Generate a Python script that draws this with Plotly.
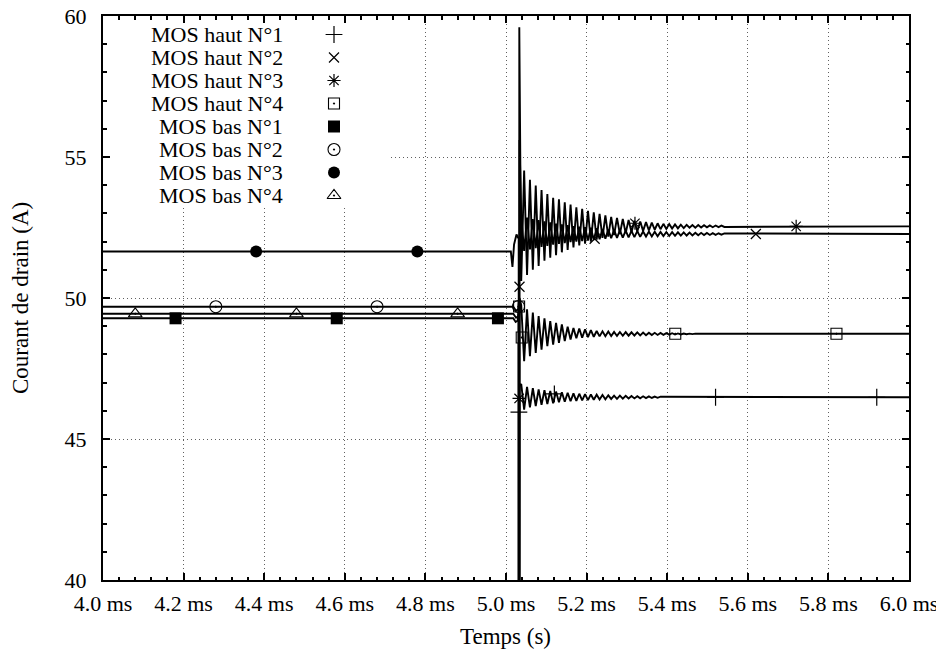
import plotly.graph_objects as go

# ---------------- data ----------------
x_tick_vals = [4.0, 4.2, 4.4, 4.6, 4.8, 5.0, 5.2, 5.4, 5.6, 5.8, 6.0]
x_tick_text = ["4.0 ms", "4.2 ms", "4.4 ms", "4.6 ms", "4.8 ms", "5.0 ms",
               "5.2 ms", "5.4 ms", "5.6 ms", "5.8 ms", "6.0 ms"]
y_tick_vals = [40, 45, 50, 55, 60]
y_tick_text = ["40", "45", "50", "55", "60"]

series_names = ["MOS haut N°1", "MOS haut N°2", "MOS haut N°3", "MOS haut N°4",
                "MOS bas N°1", "MOS bas N°2", "MOS bas N°3", "MOS bas N°4"]

# times (ms) of the successive ringing extremes after the switching instant
t_ring = [5.0450, 5.0522, 5.0594, 5.0666, 5.0738, 5.0810, 5.0882, 5.0954, 5.1026, 5.1098,
          5.1170, 5.1242, 5.1314, 5.1386, 5.1458, 5.1530, 5.1602, 5.1674, 5.1746, 5.1818,
          5.1890, 5.1962, 5.2034, 5.2106, 5.2178, 5.2250, 5.2322, 5.2394, 5.2466, 5.2538,
          5.2610, 5.2682, 5.2754, 5.2826, 5.2898, 5.2970, 5.3042, 5.3114, 5.3186, 5.3258,
          5.3330, 5.3402, 5.3474, 5.3546, 5.3618, 5.3690, 5.3762, 5.3834, 5.3906, 5.3978,
          5.4050, 5.4122, 5.4194, 5.4266, 5.4338, 5.4410, 5.4482, 5.4554, 5.4626, 5.4698,
          5.4770, 5.4842, 5.4914, 5.4986, 5.5058, 5.5130, 5.5202, 5.5274, 5.5346, 5.5418]

# ---- high-side MOS: before switching (off, 0 A), switching edge, ringing, final value
haut1_pre_t = [4.0, 5.0324, 5.0334, 5.0378]
haut1_pre_v = [0.0, 0.0, 46.9, 46.95]
haut1_ring = [46.04, 46.85, 46.12, 46.80, 46.17, 46.76, 46.21, 46.73, 46.24, 46.70,
              46.27, 46.68, 46.30, 46.66, 46.32, 46.64, 46.34, 46.62, 46.355, 46.605,
              46.37, 46.59, 46.38, 46.58, 46.39, 46.57, 46.40, 46.56, 46.41, 46.55,
              46.42, 46.54, 46.425, 46.535, 46.43, 46.53, 46.435, 46.525, 46.44, 46.52,
              46.445, 46.515, 46.45, 46.51, 46.455, 46.505, 46.46, 46.50]
haut1_final = 46.48

haut2_pre_t = [4.0, 5.0324, 5.0335, 5.0378]
haut2_pre_v = [0.0, 0.0, 55.6, 52.9]
haut2_ring = [51.67, 52.85, 51.72, 52.80, 51.77, 52.76, 51.81, 52.72, 51.85, 52.68,
              51.89, 52.64, 51.92, 52.61, 51.95, 52.58, 51.98, 52.55, 52.00, 52.53,
              52.02, 52.51, 52.04, 52.49, 52.06, 52.47, 52.08, 52.45, 52.10, 52.43,
              52.12, 52.42, 52.13, 52.40, 52.14, 52.39, 52.15, 52.38, 52.16, 52.37,
              52.17, 52.36, 52.18, 52.355, 52.185, 52.35, 52.19, 52.345, 52.195, 52.34,
              52.20, 52.335, 52.205, 52.33, 52.21, 52.325, 52.215, 52.32, 52.22, 52.315,
              52.225, 52.31, 52.23, 52.305, 52.235, 52.30, 52.24, 52.295, 52.245, 52.29]
haut2_final = 52.27

haut3_pre_t = [4.0, 5.0322, 5.0330, 5.0378]
haut3_pre_v = [0.0, 0.0, 59.6, 50.6]
haut3_ring = [54.52, 50.82, 54.19, 51.00, 53.99, 51.14, 53.83, 51.32, 53.69, 51.43,
              53.55, 51.52, 53.50, 51.62, 53.39, 51.70, 53.31, 51.79, 53.22, 51.86,
              53.16, 51.93, 53.09, 52.00, 53.04, 52.07, 52.98, 52.13, 52.93, 52.18,
              52.88, 52.23, 52.84, 52.27, 52.80, 52.30, 52.77, 52.33, 52.74, 52.36,
              52.71, 52.38, 52.69, 52.40, 52.67, 52.42, 52.65, 52.44, 52.63, 52.45,
              52.62, 52.46, 52.61, 52.47, 52.60, 52.48, 52.595, 52.49, 52.59, 52.495,
              52.585, 52.50, 52.58, 52.505, 52.575, 52.51, 52.57, 52.515, 52.565, 52.52]
haut3_final = 52.54

haut4_pre_t = [4.0, 5.0325, 5.0336, 5.0378]
haut4_pre_v = [0.0, 0.0, 50.0, 49.75]
haut4_ring = [47.76, 49.60, 47.94, 49.48, 48.05, 49.36, 48.17, 49.28, 48.29, 49.18,
              48.35, 49.12, 48.41, 49.06, 48.47, 48.98, 48.53, 48.94, 48.57, 48.92,
              48.59, 48.89, 48.61, 48.86, 48.625, 48.83, 48.64, 48.82, 48.645, 48.81,
              48.65, 48.80, 48.655, 48.795, 48.66, 48.79, 48.665, 48.785, 48.67, 48.78,
              48.675, 48.775, 48.68, 48.77, 48.685, 48.765, 48.69, 48.76, 48.695, 48.755,
              48.70, 48.75, 48.705, 48.745, 48.71, 48.74, 48.715, 48.735, 48.72, 48.735]
haut4_final = 48.73

# ---- low-side MOS: conducting, then switched off (0 A) at the edge
bas1_t = [4.0, 5.018, 5.024, 5.029, 5.0315, 5.0320, 6.0]
bas1_v = [49.28, 49.28, 49.15, 49.20, 49.50, 0.0, 0.0]
bas2_t = [4.0, 5.018, 5.025, 5.030, 5.0318, 5.0322, 6.0]
bas2_v = [49.69, 49.69, 49.55, 49.60, 49.90, 0.0, 0.0]
bas3_t = [4.0, 5.012, 5.016, 5.020, 5.026, 5.0315, 5.0320, 6.0]
bas3_v = [51.65, 51.65, 51.10, 51.90, 52.25, 52.10, 0.0, 0.0]
bas4_t = [4.0, 5.018, 5.025, 5.030, 5.0318, 5.0322, 6.0]
bas4_v = [49.44, 49.44, 49.30, 49.35, 49.60, 0.0, 0.0]

# ---- point markers (gnuplot point interval)
haut1_mk_t = [5.032, 5.12, 5.52, 5.92]
haut1_mk_v = [45.95, 46.60, 46.48, 46.48]
haut2_mk_t = [5.0335, 5.22, 5.62]
haut2_mk_v = [50.40, 52.10, 52.27]
haut3_mk_t = [5.0325, 5.32, 5.72]
haut3_mk_v = [46.44, 52.65, 52.54]
haut4_mk_t = [5.0325, 5.039, 5.42, 5.82]
haut4_mk_v = [49.70, 48.60, 48.73, 48.73]
bas1_mk_t = [4.18, 4.58, 4.98]
bas1_mk_v = [49.28, 49.28, 49.28]
bas2_mk_t = [4.28, 4.68, 5.031]
bas2_mk_v = [49.69, 49.69, 49.70]
bas3_mk_t = [4.38, 4.78]
bas3_mk_v = [51.65, 51.65]
bas4_mk_t = [4.08, 4.48, 4.88]
bas4_mk_v = [49.44, 49.44, 49.44]

# ---------------- assemble ----------------
def haut_series(pre_t, pre_v, ring, final):
    n = len(ring)
    return pre_t + t_ring[:n] + [6.0], pre_v + ring + [final]

lines = [
    haut_series(haut1_pre_t, haut1_pre_v, haut1_ring, haut1_final),
    haut_series(haut2_pre_t, haut2_pre_v, haut2_ring, haut2_final),
    haut_series(haut3_pre_t, haut3_pre_v, haut3_ring, haut3_final),
    haut_series(haut4_pre_t, haut4_pre_v, haut4_ring, haut4_final),
    (bas1_t, bas1_v), (bas2_t, bas2_v), (bas3_t, bas3_v), (bas4_t, bas4_v),
]
markers = [(haut1_mk_t, haut1_mk_v), (haut2_mk_t, haut2_mk_v), (haut3_mk_t, haut3_mk_v),
           (haut4_mk_t, haut4_mk_v), (bas1_mk_t, bas1_mk_v), (bas2_mk_t, bas2_mk_v),
           (bas3_mk_t, bas3_mk_v), (bas4_mk_t, bas4_mk_v)]

# marker styles (symbol, size, outline width)
styles = [("cross-thin", 12, 1.2), ("x-thin", 10, 1.2), ("asterisk", 11, 1.2),
          ("square-open-dot", 11, 1.1), ("square", 12, 0), ("circle-open-dot", 12, 1.1),
          ("circle", 12, 0), ("triangle-up-open-dot", 12, 1.1)]

FONT = "Liberation Serif"
FS_TICK = 22
FS_KEY = 22
FS_TITLE = 23
W, H = 944, 656
OFF = 8                           # page body margin seen in the screenshot
L, R, T, B = 103, 909, 16, 580    # plot area in screenshot pixels (reference)

fig = go.Figure()
for (xs, ys) in lines:
    fig.add_trace(go.Scatter(x=xs, y=ys, mode="lines",
                             line=dict(color="black", width=1.9),
                             showlegend=False, hoverinfo="skip"))
for (xs, ys), (sym, size, lw) in zip(markers, styles):
    fig.add_trace(go.Scatter(x=xs, y=ys, mode="markers",
                             marker=dict(symbol=sym, size=size, color="black",
                                         line=dict(color="black", width=lw)),
                             showlegend=False, hoverinfo="skip"))

# --- custom gnuplot-like key (text right-aligned, symbol to the right)
def px_x(p):
    return (p - L) / (R - L)

def px_y(p):
    return (B - p) / (B - T)

key_text_x = 285
key_sym_x = 334
key_row0 = 34.5
key_step = 23.0
annotations = []
for i, name in enumerate(series_names):
    yy = px_y(key_row0 + i * key_step)
    annotations.append(dict(x=px_x(key_text_x), y=yy, xref="paper", yref="paper",
                            text=name, showarrow=False, xanchor="right", yanchor="middle",
                            font=dict(family=FONT, size=FS_KEY, color="black")))
    sym, size, lw = styles[i]
    fig.add_trace(go.Scatter(x=[px_x(key_sym_x)], y=[yy], xaxis="x2", yaxis="y2",
                             mode="markers",
                             marker=dict(symbol=sym, size=size, color="black",
                                         line=dict(color="black", width=lw)),
                             showlegend=False, hoverinfo="skip"))

annotations.append(dict(x=px_x(505), y=px_y(637), xref="paper", yref="paper",
                        text="Temps (s)", showarrow=False, xanchor="center",
                        yanchor="middle", font=dict(family=FONT, size=FS_TITLE, color="black")))
annotations.append(dict(x=px_x(20), y=px_y(298), xref="paper", yref="paper",
                        text="Courant de drain (A)", showarrow=False, textangle=-90,
                        xanchor="center", yanchor="middle",
                        font=dict(family=FONT, size=FS_TITLE, color="black")))

# white box behind the key (hides the grid there)
x_span = 2.0
y_span = 20.0
shapes = [dict(type="rect", xref="x", yref="y", layer="between",
               x0=4.0, x1=4.0 + px_x(389) * x_span,
               y0=60 - (208 - T) / (B - T) * y_span, y1=60,
               fillcolor="white", line=dict(width=0))]

grid = dict(showgrid=True, gridcolor="#606060", gridwidth=1, griddash="1px,3px")
axis_common = dict(showline=True, linecolor="black", linewidth=2, mirror="ticks",
                   ticks="inside", ticklen=7, tickwidth=1.5, tickcolor="black",
                   zeroline=False, automargin=False, ticklabeloverflow="allow",
                   tickfont=dict(family=FONT, size=FS_TICK, color="black"),
                   **grid)

fig.update_layout(
    width=W, height=H,
    margin=dict(l=L - OFF, r=W - R + OFF, t=T - OFF, b=H - B + OFF, pad=0,
                autoexpand=False),
    font=dict(family=FONT, size=FS_TICK, color="black"),
    paper_bgcolor="white", plot_bgcolor="white",
    showlegend=False,
    xaxis=dict(range=[4.0, 6.0], tickmode="array", tickvals=x_tick_vals,
               ticktext=x_tick_text, ticklabelstandoff=3,
               minor=dict(tickmode="linear", tick0=4.0, dtick=0.04, ticks="inside",
                          ticklen=3.5, tickwidth=1.5, tickcolor="black", showgrid=False),
               **axis_common),
    yaxis=dict(range=[40, 60], tickmode="array", tickvals=y_tick_vals,
               ticktext=y_tick_text, ticklabelstandoff=10,
               minor=dict(tickmode="linear", tick0=40, dtick=1, ticks="inside",
                          ticklen=3.5, tickwidth=1.5, tickcolor="black", showgrid=False),
               **axis_common),
    xaxis2=dict(overlaying="x", range=[0, 1], visible=False, anchor="y2"),
    yaxis2=dict(overlaying="y", range=[0, 1], visible=False, anchor="x2"),
    annotations=annotations,
    shapes=shapes,
)

fig.write_html("out.html")
